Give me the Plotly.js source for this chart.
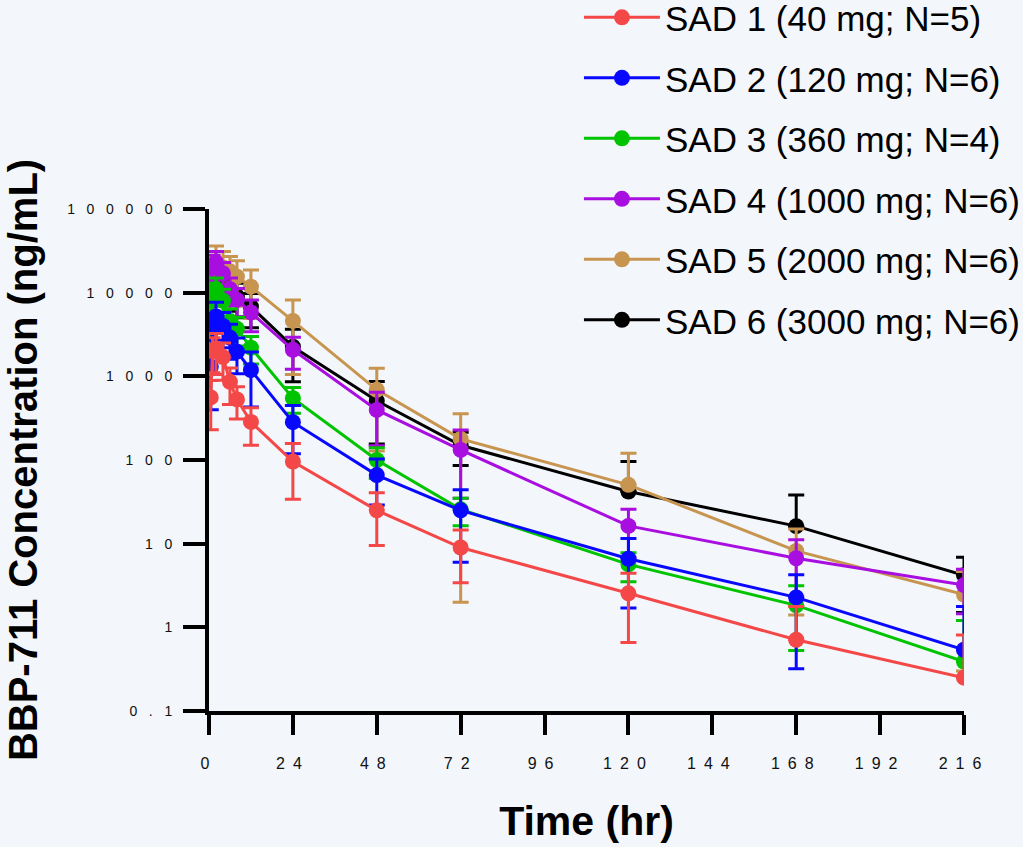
<!DOCTYPE html>
<html>
<head>
<meta charset="utf-8">
<script src="https://cdn.plot.ly/plotly-3.0.1.min.js"></script>
<style>
html,body{margin:0;padding:0;background:#f3f6fa;}
#chart{width:1023px;height:847px;}
</style>
</head>
<body>
<div id="chart"></div>
<script>
// Sampling times (hr)
const times = [0.5, 1, 2, 4, 6, 8, 12, 24, 48, 72, 120, 168, 216];

// Series labels and colours
const seriesNames = [
  'SAD 1 (40 mg; N=5)',
  'SAD 2 (120 mg; N=6)',
  'SAD 3 (360 mg; N=4)',
  'SAD 4 (1000 mg; N=6)',
  'SAD 5 (2000 mg; N=6)',
  'SAD 6 (3000 mg; N=6)'
];
const seriesColors = ['#f44848', '#0808ff', '#00c400', '#a80ee0', '#c7954f', '#000000'];

// Mean concentrations (ng/mL)
const sad1Mean = [560, 2000, 2150, 1700, 860, 530, 285, 96, 25, 9, 2.55, 0.71, 0.25];
const sad2Mean = [1300, 3800, 5200, 4000, 2900, 1970, 1190, 283, 66, 25, 6.6, 2.28, 0.54];
const sad3Mean = [5000, 9500, 11000, 8000, 4600, 3700, 2200, 547, 100, 25.7, 5.65, 1.83, 0.39];
const sad4Mean = [12000, 21000, 23000, 17000, 11000, 8200, 5800, 2075, 397, 132, 16.3, 6.7, 3.2];
const sad5Mean = [9000, 16000, 22000, 20000, 18000, 15500, 11800, 4600, 689, 179, 50.5, 8.2, 2.47];
const sad6Mean = [8000, 14000, 17000, 15000, 11000, 9000, 6800, 2260, 510, 150, 42, 16.2, 4.2];

// Standard deviations (ng/mL)
const sad1Sd = [330, 900, 1100, 800, 400, 220, 135, 62, 15.5, 5.6, 1.89, 1.06, 0.56];
const sad2Sd = [900, 1800, 2500, 1800, 1300, 900, 760, 164, 37, 19, 4.9, 1.96, 1.23];
const sad3Sd = [2500, 3500, 4000, 3000, 1800, 1400, 800, 186, 40, 9.3, 2.15, 1.3, 0.82];
const sad4Sd = [5000, 7000, 8000, 6000, 4000, 3000, 2400, 860, 249, 97, 9.5, 4.4, 1.75];
const sad5Sd = [5000, 12000, 14000, 11000, 9000, 8600, 6900, 3550, 561, 177, 70, 6.8, 2.17];
const sad6Sd = [4000, 7000, 8000, 7000, 5000, 4000, 3000, 1400, 355, 64, 54, 22, 2.7];

// Axis ticks
const xTickVals = [0, 24, 48, 72, 96, 120, 144, 168, 192, 216];
const xTickText = ['0', '2 4', '4 8', '7 2', '9 6', '1 2 0', '1 4 4', '1 6 8', '1 9 2', '2 1 6'];
const yTickVals = [0.1, 1, 10, 100, 1000, 10000, 100000];
const yTickText = ['0 . 1', '1', '1 0', '1 0 0', '1 0 0 0', '1 0 0 0 0', '1 0 0 0 0 0'];

const means = [sad1Mean, sad2Mean, sad3Mean, sad4Mean, sad5Mean, sad6Mean];
const sds = [sad1Sd, sad2Sd, sad3Sd, sad4Sd, sad5Sd, sad6Sd];

// widen the spacing between digits like the reference
const spaceX = s => s.split(' ').join('\u2002');
const spaceY = s => s.split(' ').join('\u2002\u2004');

const traces = [];
for (let k = seriesNames.length - 1; k >= 0; k--) {
  const m = means[k], s = sds[k];
  traces.push({
    type: 'scatter',
    mode: 'lines+markers',
    name: seriesNames[k],
    legendgroup: 'g' + k,
    legendrank: k + 1,
    x: times,
    y: m,
    line: {color: seriesColors[k], width: 3},
    marker: {color: seriesColors[k], size: 16},
    error_y: {
      type: 'data',
      symmetric: false,
      array: s,
      arrayminus: s.map((v, i) => (v < m[i] ? v : 0)),
      color: seriesColors[k],
      thickness: 3,
      width: 8
    }
  });
}

const fontFam = '"Liberation Sans", Arial, Helvetica, sans-serif';

const layout = {
  width: 1023,
  height: 847,
  paper_bgcolor: '#f3f6fa',
  plot_bgcolor: '#f3f6fa',
  margin: {l: 209, r: 59, t: 209, b: 136, autoexpand: false},
  font: {family: fontFam, color: '#000'},
  showlegend: true,
  legend: {
    x: 0.490, xanchor: 'left',
    y: 1.44, yanchor: 'top',
    bgcolor: 'rgba(0,0,0,0)',
    font: {family: fontFam, size: 35, color: '#000'},
    traceorder: 'grouped',
    tracegroupgap: 12,
    itemwidth: 76
  },
  xaxis: {
    range: [0, 216],
    tickmode: 'array',
    tickvals: xTickVals,
    ticktext: xTickText.map(spaceX),
    tickfont: {family: fontFam, size: 16, color: '#111'},
    ticklabelshift: -4,
    ticklabelstandoff: 15,
    showline: true, linecolor: '#000', linewidth: 4,
    ticks: 'outside', ticklen: 20, tickwidth: 4, tickcolor: '#000',
    showgrid: false, zeroline: false,
    title: {text: 'Time (hr)', font: {family: fontFam, size: 41, weight: 'bold', color: '#000'}, standoff: 36}
  },
  yaxis: {
    type: 'log',
    range: [-1, 5],
    tickmode: 'array',
    tickvals: yTickVals,
    ticktext: yTickText.map(spaceY),
    tickfont: {family: fontFam, size: 14, color: '#111'},
    ticklabelstandoff: 8,
    showline: true, linecolor: '#000', linewidth: 4,
    ticks: 'outside', ticklen: 22, tickwidth: 4, tickcolor: '#000',
    showgrid: false, zeroline: false,
    title: {text: 'BBP-711 Concentration (ng/mL)', font: {family: fontFam, size: 40, weight: 'bold', color: '#000'}, standoff: 18}
  }
};

Plotly.newPlot('chart', traces, layout, {displayModeBar: false, staticPlot: true});
</script>
</body>
</html>
